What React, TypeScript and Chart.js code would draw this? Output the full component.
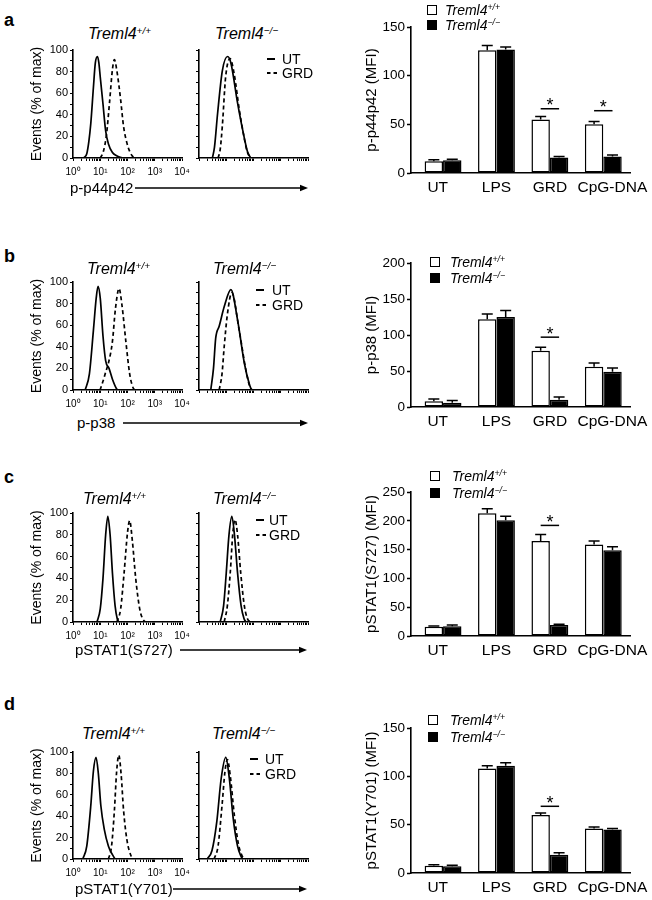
import React, { useEffect, useRef } from 'react';
import { Chart, registerables } from 'chart.js';

Chart.register(...registerables);

const FONT = '"Liberation Sans", Arial, Helvetica, sans-serif';
Chart.defaults.font.family = FONT;
Chart.defaults.color = '#000';

// ---------------- data ----------------
const CATEGORIES = ['UT', 'LPS', 'GRD', 'CpG-DNA'];
// where each category label sits on the x axis (CpG-DNA is nudged right as in the figure)
const CATEGORY_LABEL_POS = [-0.1, 1, 2, 3.17];
const LOG_TICKS = [1, 2, 3, 4, 5, 6, 7, 8, 9, 10, 20, 30, 40, 50, 60, 70, 80, 90, 100, 200, 300, 400, 500, 600, 700, 800, 900, 1000, 2000, 3000, 4000, 5000, 6000, 7000, 8000, 9000, 10000];
const LOG_TICK_LABELS: Record<number, string> = { 1: '10⁰', 10: '10¹', 100: '10²', 1000: '10³', 10000: '10⁴' };
const HIST_Y_TICKS = [0, 10, 20, 30, 40, 50, 60, 70, 80, 90, 100];

// histogram curves: [fluorescence intensity, events % of max]
const A_WT_UT = [[2.5, 0], [3.2, 4], [3.8, 15], [4.5, 32], [5.6, 65], [6.6, 88], [7.9, 94], [8.9, 88], [10, 75], [12.6, 50], [15.8, 25], [20, 13], [28, 5], [40, 2], [63, 0]];
const A_WT_GRD = [[10, 0], [13, 6], [17, 22], [22, 52], [28, 82], [33, 91], [40, 82], [56, 54], [71, 30], [95, 14], [126, 5], [170, 0]];
const A_KO_UT = [[3.1, 0], [3.7, 10], [4.8, 41], [7.2, 81], [11.2, 94], [14.8, 88], [26, 51], [40, 26], [60, 6], [79, 0]];
const A_KO_GRD = [[5, 0], [6, 8], [7.2, 30], [9.5, 75], [13.8, 92], [19.5, 78], [30, 45], [46, 18], [60, 5], [79, 0]];

const B_WT_UT = [[2.8, 0], [4, 15], [5.6, 55], [7.1, 85], [8.3, 96], [10, 85], [12.6, 50], [15.8, 27], [21, 20], [28, 10], [40, 1], [45, 0]];
const B_WT_GRD = [[9.8, 0], [12.6, 8], [16, 17], [20, 25], [28, 45], [36, 75], [49, 94], [63, 78], [87, 45], [120, 15], [150, 4], [178, 0]];
const B_KO_UT = [[2.7, 0], [3.4, 20], [4.1, 48], [5.5, 59], [8.4, 77], [14.8, 93], [26, 65], [46, 25], [71, 5], [85, 0]];
const B_KO_GRD = [[5.5, 0], [7, 15], [8.4, 40], [11, 70], [16, 90], [30, 55], [53, 18], [76, 2], [93, 0]];

const C_WT_UT = [[7.6, 0], [10, 12], [12.6, 40], [15.8, 80], [19, 97], [23, 80], [28, 45], [35, 15], [42, 3], [48, 0]];
const C_WT_GRD = [[41, 0], [56, 12], [75, 45], [100, 82], [120, 93], [150, 75], [200, 40], [280, 12], [360, 3], [450, 0]];
const C_KO_UT = [[6, 0], [8, 15], [10, 45], [12.6, 80], [16, 97], [20, 80], [26, 45], [35, 15], [45, 3], [53, 0]];
const C_KO_GRD = [[8.4, 0], [11, 15], [14, 45], [17.5, 82], [21, 94], [26, 80], [34, 45], [46, 15], [60, 3], [76, 0]];

const D_WT_UT = [[2.3, 0], [3.2, 12], [4.5, 50], [5.6, 82], [7, 95], [8.5, 80], [10.5, 50], [14, 28], [20, 12], [28, 4], [35, 0]];
const D_WT_GRD = [[20, 0], [26, 12], [33, 45], [40, 82], [48, 97], [58, 80], [72, 45], [95, 18], [130, 4], [170, 0]];
const D_KO_UT = [[2, 0], [3, 8], [4.5, 35], [6.5, 75], [9.6, 95], [13, 75], [18, 38], [26, 12], [34, 3], [40, 0]];
const D_KO_GRD = [[3.6, 0], [5, 12], [7, 50], [9, 82], [11, 93], [14, 78], [20, 40], [28, 14], [38, 3], [49, 0]];

// bar charts: MFI means, SEM, significance-bar levels
const A_Y_TICKS = [0, 50, 100, 150];
const A_WT = [12, 126, 55, 50];
const A_WT_ERR = [1.5, 5, 3, 3];
const A_KO = [13, 127, 16, 17];
const A_KO_ERR = [1, 2.5, 1, 1.5];
const A_SIG = [null, null, 66, 64];

const B_Y_TICKS = [0, 50, 100, 150, 200];
const B_WT = [8, 122, 78, 56];
const B_WT_ERR = [3, 7, 5, 5];
const B_KO = [6, 125, 10, 49];
const B_KO_ERR = [3, 9, 4, 5];
const B_SIG = [null, null, 97, null];

const C_Y_TICKS = [0, 50, 100, 150, 200, 250];
const C_WT = [16, 213, 165, 159];
const C_WT_ERR = [1.5, 8, 11, 6];
const C_KO = [17, 201, 19, 149];
const C_KO_ERR = [2, 7, 1.5, 6];
const C_SIG = [null, null, 192, null];

const D_Y_TICKS = [0, 50, 100, 150];
const D_WT = [7.5, 108, 60, 46];
const D_WT_ERR = [1, 3, 2, 1.5];
const D_KO = [7, 111, 19, 45];
const D_KO_ERR = [1, 3, 2, 1];
const D_SIG = [null, null, 69, null];

// ---------------- layout ----------------
const ROWS = [
  {
    letter: 'a', letterBase: 26, titleBase: 40, titleLX: 88, titleRX: 215,
    histTop: 50, histBottom: 158,
    curves: [A_WT_UT, A_WT_GRD, A_KO_UT, A_KO_GRD],
    legend: { lineX: 267, textX: 282, utBase: 64, grdBase: 78 },
    marker: { text: 'p-p44p42', x: 70, base: 193, a1: 135, a2: 308 },
    barTop: 27, barBottom: 173, yTicks: A_Y_TICKS,
    wt: A_WT, wtErr: A_WT_ERR, ko: A_KO, koErr: A_KO_ERR, sig: A_SIG, yTitle: 'p-p44p42 (MFI)',
    barLegend: { x: 427, y1: 5, y2: 20, textX: 445 },
  },
  {
    letter: 'b', letterBase: 262, titleBase: 275, titleLX: 87, titleRX: 213,
    histTop: 282, histBottom: 390,
    curves: [B_WT_UT, B_WT_GRD, B_KO_UT, B_KO_GRD],
    legend: { lineX: 256, textX: 272, utBase: 295, grdBase: 310 },
    marker: { text: 'p-p38', x: 77, base: 428, a1: 123, a2: 308 },
    barTop: 263, barBottom: 407, yTicks: B_Y_TICKS,
    wt: B_WT, wtErr: B_WT_ERR, ko: B_KO, koErr: B_KO_ERR, sig: B_SIG, yTitle: 'p-p38 (MFI)',
    barLegend: { x: 430, y1: 257, y2: 273, textX: 450 },
  },
  {
    letter: 'c', letterBase: 483, titleBase: 505, titleLX: 83, titleRX: 213,
    histTop: 513, histBottom: 622,
    curves: [C_WT_UT, C_WT_GRD, C_KO_UT, C_KO_GRD],
    legend: { lineX: 256, textX: 269, utBase: 525, grdBase: 540 },
    marker: { text: 'pSTAT1(S727)', x: 75, base: 655, a1: 180, a2: 307 },
    barTop: 492, barBottom: 636, yTicks: C_Y_TICKS,
    wt: C_WT, wtErr: C_WT_ERR, ko: C_KO, koErr: C_KO_ERR, sig: C_SIG, yTitle: 'pSTAT1(S727) (MFI)',
    barLegend: { x: 430, y1: 471, y2: 488, textX: 452 },
  },
  {
    letter: 'd', letterBase: 710, titleBase: 740, titleLX: 82, titleRX: 212,
    histTop: 752, histBottom: 859,
    curves: [D_WT_UT, D_WT_GRD, D_KO_UT, D_KO_GRD],
    legend: { lineX: 250, textX: 265, utBase: 764, grdBase: 779 },
    marker: { text: 'pSTAT1(Y701)', x: 75, base: 894, a1: 173, a2: 307 },
    barTop: 728, barBottom: 873, yTicks: D_Y_TICKS,
    wt: D_WT, wtErr: D_WT_ERR, ko: D_KO, koErr: D_KO_ERR, sig: D_SIG, yTitle: 'pSTAT1(Y701) (MFI)',
    barLegend: { x: 428, y1: 715, y2: 732, textX: 450 },
  },
];

// ---------------- chart helpers ----------------
type Box = { left: number; top: number; width: number; height: number };

function ChartCanvas({ box, build }: { box: Box; build: () => any }) {
  const ref = useRef<HTMLCanvasElement>(null);
  useEffect(() => {
    const chart = new Chart(ref.current as HTMLCanvasElement, build());
    return () => chart.destroy();
  }, []);
  return (
    <canvas
      ref={ref}
      width={box.width}
      height={box.height}
      style={{ position: 'absolute', left: box.left, top: box.top, width: box.width, height: box.height }}
    />
  );
}

function histChart(ut: number[][], grd: number[][], x1: number, x2: number, y1: number, y2: number, withLabels: boolean) {
  const L = withLabels ? 53 : 10;
  const T = 6, R = 12, B = 24;
  const box = { left: x1 - L, top: y1 - T, width: x2 - x1 + L + R, height: y2 - y1 + T + B };
  const build = () => ({
    type: 'line',
    data: {
      datasets: [
        { label: 'UT', data: ut.map(([x, y]) => ({ x, y })), borderColor: '#000', borderWidth: 1.7, pointRadius: 0, cubicInterpolationMode: 'monotone', fill: false },
        { label: 'GRD', data: grd.map(([x, y]) => ({ x, y })), borderColor: '#000', borderWidth: 1.7, borderDash: [4, 3], pointRadius: 0, cubicInterpolationMode: 'monotone', fill: false },
      ],
    },
    options: {
      animation: false, responsive: false, events: [],
      layout: { padding: { left: 0, top: T, right: R, bottom: 0 } },
      plugins: { legend: { display: false }, tooltip: { enabled: false } },
      scales: {
        x: {
          type: 'logarithmic', min: 1, max: 10000,
          afterBuildTicks: (s: any) => { s.ticks = LOG_TICKS.map((v) => ({ value: v })); },
          ticks: { autoSkip: false, maxRotation: 0, minRotation: 0, padding: 5, font: { size: 10 }, color: '#000',
            callback: (v: any) => (withLabels ? LOG_TICK_LABELS[v] ?? '' : '') },
          grid: { display: true, drawOnChartArea: false, drawTicks: true, tickLength: 3, tickColor: '#000', tickWidth: 1 },
          border: { display: true, color: '#000', width: 1.6 },
          afterFit: (s: any) => { s.height = B; s.paddingLeft = 0; s.paddingRight = 0; },
        },
        y: {
          type: 'linear', min: 0, max: 100,
          afterBuildTicks: (s: any) => { s.ticks = HIST_Y_TICKS.map((v) => ({ value: v })); },
          ticks: { autoSkip: false, padding: 2, font: { size: 11 }, color: '#000',
            callback: (v: any) => (withLabels && v % 20 === 0 ? String(v) : '') },
          grid: { display: true, drawOnChartArea: false, drawTicks: true, tickLength: 3, tickColor: '#000', tickWidth: 1 },
          border: { display: true, color: '#000', width: 1.6 },
          title: withLabels
            ? { display: true, text: 'Events (% of max)', color: '#000', font: { size: 14 }, padding: { top: 8.6, bottom: 0 } }
            : { display: false },
          afterFit: (s: any) => { s.width = L; s.paddingTop = 0; s.paddingBottom = 0; },
        },
      },
    },
  });
  return { box, build };
}

function barChart(r: any) {
  const x1 = 411, x2 = 630;
  const L = x1 - 360, T = 10, R = 22, B = 28;
  const box = { left: x1 - L, top: r.barTop - T, width: x2 - x1 + L + R, height: r.barBottom - r.barTop + T + B };
  const ymax = r.yTicks[r.yTicks.length - 1];
  const plugin = {
    id: 'errAndSig',
    afterDatasetsDraw(chart: any) {
      const ctx = chart.ctx;
      const ys = chart.scales.y;
      ctx.save();
      ctx.strokeStyle = '#000';
      ctx.fillStyle = '#000';
      ctx.lineWidth = 1.5;
      chart.data.datasets.forEach((ds: any, i: number) => {
        const meta = chart.getDatasetMeta(i);
        meta.data.forEach((bar: any, j: number) => {
          const v = ds.data[j].y;
          const yTop = ys.getPixelForValue(v + ds.errors[j]);
          ctx.beginPath();
          ctx.moveTo(bar.x, bar.y);
          ctx.lineTo(bar.x, yTop);
          ctx.moveTo(bar.x - 5.5, yTop);
          ctx.lineTo(bar.x + 5.5, yTop);
          ctx.stroke();
        });
      });
      const m0 = chart.getDatasetMeta(0), m1 = chart.getDatasetMeta(1);
      r.sig.forEach((s: number | null, j: number) => {
        if (s == null) return;
        const y = ys.getPixelForValue(s);
        const a = m0.data[j].x, b = m1.data[j].x;
        ctx.beginPath();
        ctx.moveTo(a, y);
        ctx.lineTo(b, y);
        ctx.stroke();
        ctx.font = `18px ${FONT}`;
        ctx.textAlign = 'center';
        ctx.textBaseline = 'alphabetic';
        ctx.fillText('*', (a + b) / 2, y + 2.5);
      });
      ctx.restore();
    },
  };
  const build = () => ({
    type: 'bar',
    data: {
      datasets: [
        { label: 'Treml4+/+', data: r.wt.map((y: number, i: number) => ({ x: i, y })), errors: r.wtErr,
          backgroundColor: '#fff', borderColor: '#000', borderWidth: 1.5, borderSkipped: false, categoryPercentage: 0.69, barPercentage: 1 },
        { label: 'Treml4−/−', data: r.ko.map((y: number, i: number) => ({ x: i, y })), errors: r.koErr,
          backgroundColor: '#000', borderColor: '#000', borderWidth: 1.5, borderSkipped: false, categoryPercentage: 0.69, barPercentage: 1 },
      ],
    },
    plugins: [plugin],
    options: {
      animation: false, responsive: false, events: [],
      layout: { padding: { left: 0, top: T, right: R, bottom: 0 } },
      plugins: { legend: { display: false }, tooltip: { enabled: false } },
      scales: {
        x: {
          type: 'linear', min: -0.6, max: 3.5, offset: false,
          afterBuildTicks: (s: any) => { s.ticks = CATEGORY_LABEL_POS.map((v) => ({ value: v })); },
          ticks: { autoSkip: false, maxRotation: 0, minRotation: 0, padding: 5.5, font: { size: 15.5 }, color: '#000',
            callback: (_v: any, i: number) => CATEGORIES[i] ?? '' },
          grid: { display: false, drawTicks: false, offset: false },
          border: { display: true, color: '#000', width: 1.6 },
          afterFit: (s: any) => { s.height = B; s.paddingLeft = 0; s.paddingRight = 0; },
        },
        y: {
          type: 'linear', min: 0, max: ymax,
          afterBuildTicks: (s: any) => { s.ticks = r.yTicks.map((v: number) => ({ value: v })); },
          ticks: { autoSkip: false, padding: 2, font: { size: 13.5 }, color: '#000' },
          grid: { display: true, drawOnChartArea: false, drawTicks: true, tickLength: 4, tickColor: '#000', tickWidth: 1.5 },
          border: { display: true, color: '#000', width: 1.6 },
          title: { display: true, text: r.yTitle, color: '#000', font: { size: 15 }, padding: { top: 3, bottom: 0 } },
          afterFit: (s: any) => { s.width = L; s.paddingTop = 0; s.paddingBottom = 0; },
        },
      },
    },
  });
  return { box, build };
}

// ---------------- text helpers ----------------
function Txt({ x, base, size, children, style }: any) {
  return (
    <div style={{ position: 'absolute', left: x, top: base - 0.8465 * size, fontSize: size, lineHeight: `${size}px`, whiteSpace: 'nowrap', ...style }}>
      {children}
    </div>
  );
}

function Sup({ children }: any) {
  return <span style={{ fontSize: '0.62em', position: 'relative', top: '-0.55em' }}>{children}</span>;
}

function Arrow({ x1, x2, y }: { x1: number; x2: number; y: number }) {
  const w = x2 - x1;
  return (
    <svg style={{ position: 'absolute', left: x1, top: y - 5 }} width={w} height={10}>
      <line x1={0} y1={5} x2={w - 6} y2={5} stroke="#000" strokeWidth={1.5} />
      <polygon points={`${w - 8},1.8 ${w},5 ${w - 8},8.2`} fill="#000" />
    </svg>
  );
}

function Row({ r }: { r: any }) {
  const hL = histChart(r.curves[0], r.curves[1], 73, 182, r.histTop, r.histBottom, true);
  const hR = histChart(r.curves[2], r.curves[3], 199, 308, r.histTop, r.histBottom, false);
  const bc = barChart(r);
  const lg = r.legend;
  const bl = r.barLegend;
  return (
    <>
      <ChartCanvas box={hL.box} build={hL.build} />
      <ChartCanvas box={hR.box} build={hR.build} />
      <ChartCanvas box={bc.box} build={bc.build} />
      <Txt x={4} base={r.letterBase} size={18} style={{ fontWeight: 'bold' }}>{r.letter}</Txt>
      <Txt x={r.titleLX} base={r.titleBase} size={16} style={{ fontStyle: 'italic' }}>Treml4<Sup>+/+</Sup></Txt>
      <Txt x={r.titleRX} base={r.titleBase} size={16} style={{ fontStyle: 'italic' }}>Treml4<Sup>−/−</Sup></Txt>
      <svg style={{ position: 'absolute', left: lg.lineX, top: lg.utBase - 7 }} width={11} height={4}>
        <line x1={0} y1={2} x2={8} y2={2} stroke="#000" strokeWidth={2} />
      </svg>
      <svg style={{ position: 'absolute', left: lg.lineX, top: lg.grdBase - 7 }} width={11} height={4}>
        <line x1={0} y1={2} x2={10} y2={2} stroke="#000" strokeWidth={2} strokeDasharray="3.5 3" />
      </svg>
      <Txt x={lg.textX} base={lg.utBase} size={14}>UT</Txt>
      <Txt x={lg.textX} base={lg.grdBase} size={14}>GRD</Txt>
      <Txt x={r.marker.x} base={r.marker.base} size={15}>{r.marker.text}</Txt>
      <Arrow x1={r.marker.a1} x2={r.marker.a2} y={r.marker.base - 5.4} />
      <div style={{ position: 'absolute', left: bl.x, top: bl.y1, width: 10, height: 10, boxSizing: 'border-box', border: '1.5px solid #000', background: '#fff' }} />
      <div style={{ position: 'absolute', left: bl.x, top: bl.y2, width: 10, height: 10, boxSizing: 'border-box', border: '1.5px solid #000', background: '#000' }} />
      <Txt x={bl.textX} base={bl.y1 + 10} size={14} style={{ fontStyle: 'italic' }}>Treml4<Sup>+/+</Sup></Txt>
      <Txt x={bl.textX} base={bl.y2 + 10} size={14} style={{ fontStyle: 'italic' }}>Treml4<Sup>−/−</Sup></Txt>
    </>
  );
}

export default function App() {
  return (
    <div style={{ position: 'absolute', left: 0, top: 0, width: 652, height: 900, background: '#fff', fontFamily: FONT, color: '#000', overflow: 'hidden' }}>
      {ROWS.map((r) => (
        <Row key={r.letter} r={r} />
      ))}
    </div>
  );
}
